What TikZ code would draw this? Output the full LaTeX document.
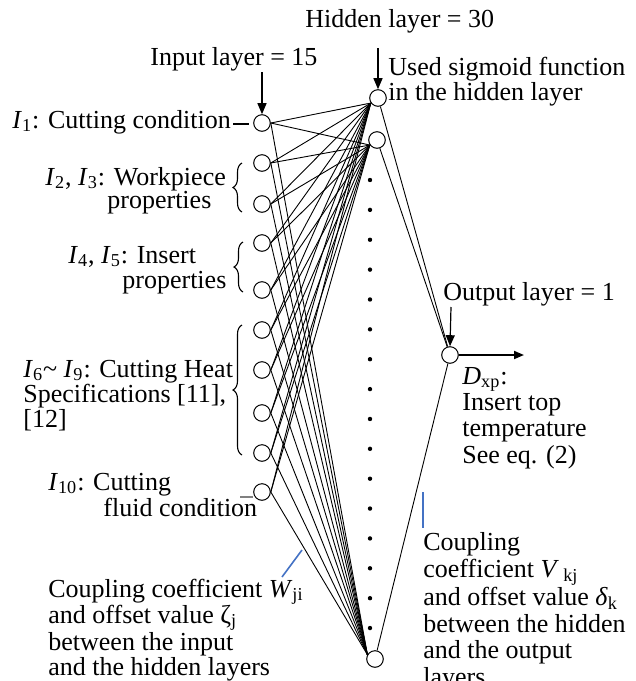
\documentclass[tikz,border=0pt]{standalone}
\usepackage{fontspec}
\setmainfont{Liberation Serif}
\usetikzlibrary{arrows.meta,decorations.pathreplacing}
\definecolor{markblue}{RGB}{68,114,196}
\begin{document}
\begin{tikzpicture}[x=0.5pt,y=-0.5pt,
  neuron/.style={circle,draw,line width=0.5pt,inner sep=0pt,minimum size=8.3pt,fill=white},
  txt/.style={anchor=base west,inner sep=0pt,font=\fontsize{13}{13}\selectfont},
  link/.style={line width=0.45pt},
  ptr/.style={line width=0.6pt,-{Triangle[length=5.5pt,width=4.5pt]}},
  outptr/.style={line width=0.9pt,-{Triangle[length=5pt,width=4pt]}},
  bracemark/.style={line width=0.55pt,decorate,decoration={brace,amplitude=4.5pt}},
  bluemark/.style={draw=markblue,line width=0.8pt}]
\useasboundingbox (0,0) rectangle (636,681);

% input neurons
\foreach \n/\y in {1/123,2/163,3/204,4/243,5/290,6/330,7/370,8/413,9/453,10/492}
  \node[neuron] (i\n) at (262,\y) {};
% hidden neurons
\node[neuron] (h1) at (378,98) {};
\node[neuron] (h2) at (377,140) {};
\node[neuron] (h3) at (375,659) {};
% output neuron
\node[neuron] (o) at (450,355) {};

% dots of the hidden layer
\foreach \k in {0,...,15}
  \fill ({370},{180+29.87*\k}) circle (1.1pt);

% connections input -> hidden
\foreach \n in {1,...,10}{
  \draw[link] (i\n.east) -- (h1.215);
  \draw[link] (i\n.east) -- (h2.215);
  \draw[link] (i\n.east) -- (h3.150);
}
% connections hidden -> output
\draw[link] (h1) -- (o);
\draw[link] (h2) -- (o);
\draw[link] (h3) -- (o);

% arrows
\coordinate (ia) at (262,72);
\draw[ptr] (ia) -- (i1.north);
\coordinate (ha) at (378,48);
\draw[ptr] (ha) -- (h1.north);
\coordinate (oa) at (451,307);
\draw[ptr] (oa) -- (o.north);
\coordinate (oend) at (524,355);
\draw[outptr] (o.east) -- (oend);

% headings
\node[txt] (tin) at (150,65) {Input layer = 15};
\node[txt] (thid) at (305,27) {Hidden layer = 30};
\node[txt] (tsig1) at (388,75) {Used sigmoid function};
\node[txt] (tsig2) at (388,100) {in the hidden layer};
\node[txt] (tout) at (443,300) {Output layer = 1};

% input labels
\node[txt] (l1) at (12,128) {\textit{I}\textsubscript{1}: Cutting condition};
\coordinate (d1a) at (233,124);
\coordinate (d1b) at (249,124);
\draw[line width=0.6pt] (d1a) -- (d1b);
\node[txt] (l2a) at (45,185) {\textit{I}\textsubscript{2}, \textit{I}\textsubscript{3}: Workpiece};
\node[txt] (l2b) at (107,208) {properties};
\node[txt] (l4a) at (68,263) {\textit{I}\textsubscript{4}, \textit{I}\textsubscript{5}: Insert};
\node[txt] (l4b) at (122,288) {properties};
\node[txt] (l6a) at (23,377) {\textit{I}\textsubscript{6}\textasciitilde{} \textit{I}\textsubscript{9}: Cutting Heat};
\node[txt] (l6b) at (23,402) {Specifications [11],};
\node[txt] (l6c) at (23,427) {[12]};
\node[txt] (l10a) at (48,490) {\textit{I}\textsubscript{10}: Cutting};
\node[txt] (l10b) at (103,516) {fluid condition};
\coordinate (d10a) at (240,497);
\coordinate (d10b) at (253,497);
\draw[gray,line width=0.8pt] (d10a) -- (d10b);

% braces
\coordinate (b1a) at (242,212); \coordinate (b1b) at (242,163);
\draw[bracemark] (b1a) -- (b1b);
\coordinate (b2a) at (243,292); \coordinate (b2b) at (243,242);
\draw[bracemark] (b2a) -- (b2b);
\coordinate (b3a) at (242,455); \coordinate (b3b) at (242,325);
\draw[bracemark] (b3a) -- (b3b);

% output labels
\node[txt] (dx1) at (462,384) {\textit{D}\textsubscript{xp}:};
\node[txt] (dx2) at (462,410) {Insert top};
\node[txt] (dx3) at (462,436) {temperature};
\node[txt] (dx4) at (462,463) {See eq. (2)};

% coupling W
\coordinate (bw1) at (282,577); \coordinate (bw2) at (302,550);
\draw[bluemark] (bw1) -- (bw2);
\node[txt] (w1) at (48,597) {Coupling coefficient \textit{W}\textsubscript{ji}};
\node[txt] (w2) at (48,623) {and offset value ζ\textsubscript{j}};
\node[txt] (w3) at (48,650) {between the input};
\node[txt] (w4) at (48,675) {and the hidden layers};

% coupling V
\coordinate (bv1) at (423,492); \coordinate (bv2) at (423,528);
\draw[bluemark] (bv1) -- (bv2);
\node[txt] (v1) at (423,550) {Coupling};
\node[txt] (v2) at (423,577) {coefficient \textit{V}\,\textsubscript{kj}};
\node[txt] (v3) at (423,605) {and offset value \textit{δ}\textsubscript{k}};
\node[txt] (v4) at (423,632) {between the hidden};
\node[txt] (v5) at (423,658) {and the output};
\node[txt] (v6) at (423,685) {layers};
\end{tikzpicture}
\end{document}
